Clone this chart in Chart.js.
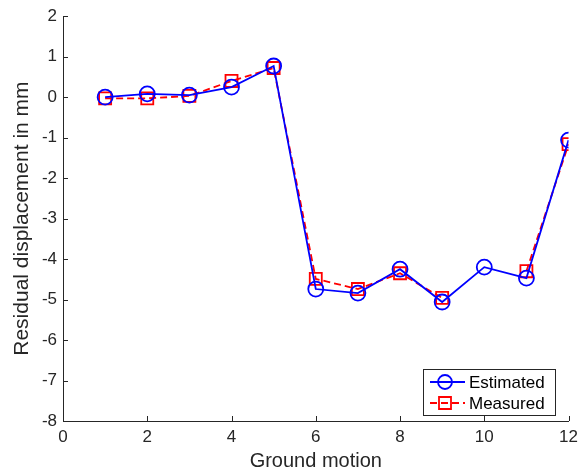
<!DOCTYPE html>
<html lang="en">
<head>
    <meta charset="UTF-8">
    <title>Residual displacement</title>
    <script src="https://cdn.jsdelivr.net/npm/chart.js"></script>
    <style>
        body { margin: 0; background: #fff; }
        #wrap { width: 584px; height: 473px; }
    </style>
</head>
<body>
    <div id="wrap"><canvas id="chart" width="584" height="473"></canvas></div>
    <script>
        const motions = [1, 2, 3, 4, 5, 6, 7, 8, 9, 10, 11, 12];
        const estimated = [0.0, 0.08, 0.05, 0.25, 0.77, -4.74, -4.84, -4.25, -5.06, -4.2, -4.47, -1.06];
        const measured = [-0.03, -0.03, 0.03, 0.4, 0.72, -4.49, -4.74, -4.35, -4.96, null, -4.3, -1.16];
        const xTicks = [0, 2, 4, 6, 8, 10, 12];
        const yTicks = [2, 1, 0, -1, -2, -3, -4, -5, -6, -7, -8];

        const font = "'Liberation Sans', Arial, sans-serif";

        // inward MATLAB-style ticks
        const innerTicks = {
            id: 'innerTicks',
            afterDraw(chart) {
                const ctx = chart.ctx, x = chart.scales.x, y = chart.scales.y;
                const a = chart.chartArea;
                ctx.save();
                ctx.strokeStyle = '#262626';
                ctx.lineWidth = 1;
                ctx.beginPath();
                xTicks.forEach(v => {
                    const px = Math.round(x.getPixelForValue(v)) + 0.5;
                    ctx.moveTo(px, a.bottom); ctx.lineTo(px, a.bottom - 5);
                });
                yTicks.forEach(v => {
                    const py = Math.round(y.getPixelForValue(v)) + 0.5;
                    ctx.moveTo(a.left, py); ctx.lineTo(a.left + 5, py);
                });
                ctx.stroke();
                ctx.restore();
            }
        };

        // legend box inside the axes, lower right
        const boxLegend = {
            id: 'boxLegend',
            afterDraw(chart) {
                const ctx = chart.ctx;
                const bx = 423, by = 369, bw = 132, bh = 46;
                ctx.save();
                ctx.fillStyle = '#fff';
                ctx.fillRect(bx, by, bw, bh);
                ctx.strokeStyle = '#262626';
                ctx.lineWidth = 1;
                ctx.strokeRect(bx + 0.5, by + 0.5, bw, bh);
                ctx.font = '17px ' + font;
                ctx.textBaseline = 'middle';
                chart.data.datasets.forEach((ds, i) => {
                    const cy = by + 13 + i * 21;
                    ctx.strokeStyle = ds.borderColor;
                    ctx.lineWidth = 1.8;
                    ctx.setLineDash(ds.borderDash || []);
                    ctx.beginPath();
                    ctx.moveTo(bx + 7, cy); ctx.lineTo(bx + 42, cy);
                    ctx.stroke();
                    ctx.setLineDash([]);
                    ctx.beginPath();
                    if (ds.pointStyle === 'circle') {
                        ctx.arc(bx + 22, cy, 7, 0, Math.PI * 2);
                    } else {
                        ctx.rect(bx + 16, cy - 6, 12, 12);
                    }
                    ctx.stroke();
                    ctx.fillStyle = '#000';
                    ctx.fillText(ds.label, bx + 46, cy + 1);
                });
                ctx.restore();
            }
        };

        new Chart(document.getElementById('chart'), {
            type: 'line',
            data: {
                datasets: [{
                    label: 'Estimated',
                    data: motions.map((m, i) => ({ x: m, y: estimated[i] })),
                    borderColor: '#0000ff',
                    borderWidth: 1.8,
                    pointStyle: 'circle',
                    pointRadius: 7.5,
                    pointBorderWidth: 1.8,
                    pointBorderColor: '#0000ff',
                    pointBackgroundColor: 'rgba(0,0,0,0)',
                    tension: 0
                }, {
                    label: 'Measured',
                    data: motions.map((m, i) => ({ x: m, y: measured[i] })),
                    borderColor: '#ff0000',
                    borderWidth: 1.8,
                    borderDash: [7, 4],
                    pointStyle: 'rect',
                    pointRadius: 8.5,
                    pointBorderWidth: 1.8,
                    pointBorderColor: '#ff0000',
                    pointBackgroundColor: 'rgba(0,0,0,0)',
                    spanGaps: false,
                    tension: 0
                }]
            },
            options: {
                responsive: false,
                animation: false,
                layout: { padding: { top: 16, right: 11, left: 0, bottom: 0 } },
                plugins: { legend: { display: false }, tooltip: { enabled: false } },
                scales: {
                    x: {
                        type: 'linear',
                        min: 0, max: 12,
                        afterBuildTicks: s => { s.ticks = xTicks.map(v => ({ value: v })); },
                        afterFit: s => { s.height = 52; },
                        grid: { display: false, drawTicks: false },
                        border: { display: true, color: '#262626', width: 1 },
                        ticks: { color: '#262626', font: { family: font, size: 17 }, padding: 6, maxRotation: 0 },
                        title: { display: true, text: 'Ground motion', color: '#262626', font: { family: font, size: 20 }, padding: { top: 0, bottom: 0 } }
                    },
                    y: {
                        min: -8, max: 2,
                        afterBuildTicks: s => { s.ticks = yTicks.map(v => ({ value: v })); },
                        afterFit: s => { s.width = 63; },
                        grid: { display: false, drawTicks: false },
                        border: { display: true, color: '#262626', width: 1 },
                        ticks: { color: '#262626', font: { family: font, size: 17 }, padding: 6 },
                        title: { display: true, text: 'Residual displacement in mm', color: '#262626', font: { family: font, size: 21 }, padding: { top: 10, bottom: 0 } }
                    }
                }
            },
            plugins: [innerTicks, boxLegend]
        });
    </script>
</body>
</html>
